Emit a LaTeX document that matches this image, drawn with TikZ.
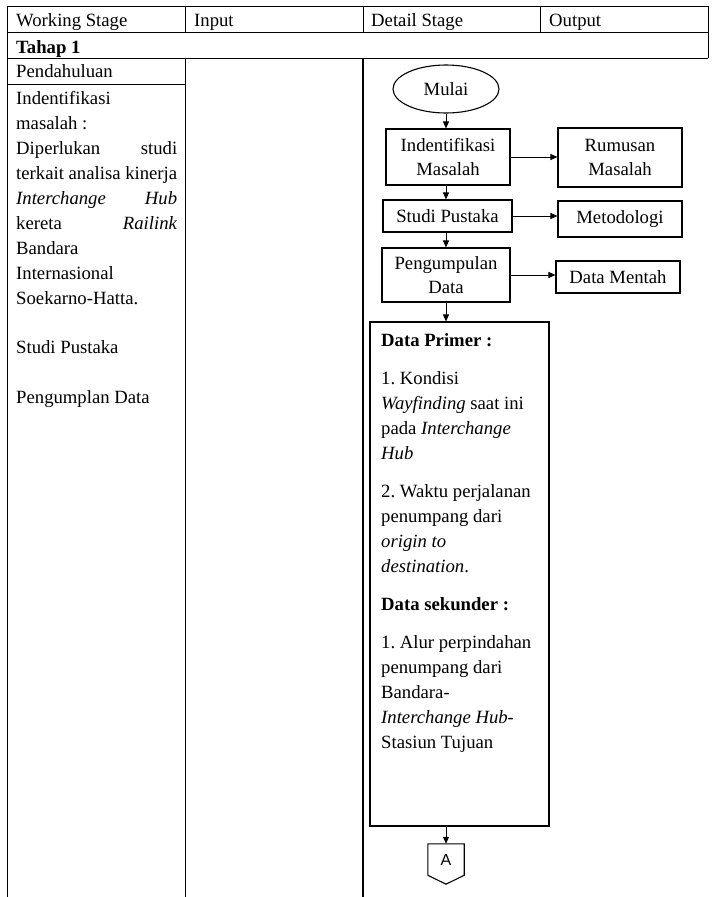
\documentclass[tikz,border=0pt]{standalone}
\usepackage{fontspec}
\setmainfont{Liberation Serif}
\newfontfamily\arialf{Liberation Sans}
\usetikzlibrary{arrows.meta,shapes.geometric}
\frenchspacing
\newcommand\fixspc{\spaceskip=0.25em\relax}
\begin{document}
\begin{tikzpicture}[x=1pt,y=-1pt,
  grid/.style={line width=0.9pt},
  fbox/.style={draw,line width=1.1pt,align=center,inner sep=0pt,font=\fontsize{18.7}{24}\selectfont},
  arr/.style={-{Triangle[length=7pt,width=6pt]},line width=1pt},
  hdr/.style={anchor=base west,inner sep=0pt,font=\fontsize{18.7}{24}\selectfont},
  coltext/.style={anchor=north west,inner sep=0pt,align=left},
]
\useasboundingbox (0,0) rectangle (712,897);
% table lines
\draw[grid] (7,6) -- (708,6);
\draw[grid] (7,32) -- (708,32);
\draw[grid] (7,58) -- (708,58);
\draw[grid] (7,84) -- (185,84);
\draw[grid] (7,6) -- (7,897);
\draw[grid] (708,6) -- (708,58);
\draw[grid] (185,6) -- (185,32);
\draw[grid] (363,6) -- (363,32);
\draw[grid] (540,6) -- (540,32);
\draw[grid] (185,58) -- (185,897);
\draw[line width=1.8pt] (363,58) -- (363,897);
% header texts
\node[hdr] (h1) at (16,26) {Working Stage};
\node[hdr] (h2) at (194,26) {Input};
\node[hdr] (h3) at (371,26) {Detail Stage};
\node[hdr] (h4) at (549,26) {Output};
\node[hdr,font=\fontsize{18.7}{24}\selectfont\bfseries] (tahap) at (16,53) {Tahap 1};
\node[hdr] (pend) at (16,77) {Pendahuluan};
% left column
\node[coltext,text width=161pt,font=\fontsize{18.7}{25}\selectfont] (left) at (16,91.2) {\fixspc
Indentifikasi\\
masalah :\\
Diperlukan\hfill studi\\
terkait analisa kinerja\\
\textit{Interchange}\hfill\textit{Hub}\\
kereta\hfill\textit{Railink}\\
Bandara\\
Internasional\\
Soekarno-Hatta.\\[24pt]
Studi Pustaka\\[25pt]
Pengumplan Data};
% flowchart
\node[draw,ellipse,line width=1.1pt,minimum width=106pt,minimum height=48pt,inner sep=0pt,
  font=\fontsize{18.7}{24}\selectfont] (mulai) at (446,89) {Mulai};
\node[fbox,minimum width=124pt,minimum height=56pt] (ident) at (448,157) {Indentifikasi\\Masalah};
\node[fbox,minimum width=124pt,minimum height=59pt] (rumus) at (620,157.5) {Rumusan\\Masalah};
\node[fbox,minimum width=129pt,minimum height=32pt] (studi) at (447.5,216) {Studi Pustaka};
\node[fbox,minimum width=124pt,minimum height=36pt] (metod) at (620,219) {Metodologi};
\node[fbox,minimum width=128pt,minimum height=54pt] (kumpul) at (446,275) {Pengumpulan\\Data};
\node[fbox,minimum width=124pt,minimum height=32pt] (mentah) at (618,277) {Data Mentah};
\node[draw,line width=1.1pt,minimum width=179pt,minimum height=504pt,inner sep=0pt] (big) at (459.5,574) {};
\node[coltext,text width=166pt,font=\fontsize{18.7}{25}\selectfont] (bigtext) at (381,333.3) {\fixspc
\textbf{Data Primer :}\\[13pt]
1. Kondisi\\
\textit{Wayfinding} saat ini\\
pada \textit{Interchange}\\
\textit{Hub}\\[13pt]
2. Waktu perjalanan\\
penumpang dari\\
\textit{origin to}\\
\textit{destination}.\\[13pt]
\textbf{Data sekunder :}\\[13pt]
1. Alur perpindahan\\
penumpang dari\\
Bandara-\\
\textit{Interchange Hub}-\\
Stasiun Tujuan};
% off-page connector A
\node[minimum width=36pt,minimum height=40pt,inner sep=0pt] (A) at (446,864) {};
\draw[line width=1.1pt] (A.north west) -- (A.north east) -- ([yshift=9pt]A.south east)
  -- (A.south) -- ([yshift=9pt]A.south west) -- cycle;
\node[inner sep=0pt,font=\arialf\fontsize{16}{18}\selectfont] (Alabel) at (446,860) {A};
% connectors
\draw[arr] (mulai.south) -- (mulai.south |- ident.north);
\draw[arr] (mulai.south |- ident.south) -- (mulai.south |- studi.north);
\draw[arr] (mulai.south |- studi.south) -- (mulai.south |- kumpul.north);
\draw[arr] (mulai.south |- kumpul.south) -- (mulai.south |- big.north);
\draw[arr] (A.north |- big.south) -- (A.north);
\draw[arr] (ident.east) -- (ident.east -| rumus.west);
\draw[arr] (studi.east) -- (studi.east -| metod.west);
\draw[arr] (kumpul.east) -- (kumpul.east -| mentah.west);
\end{tikzpicture}
\end{document}
